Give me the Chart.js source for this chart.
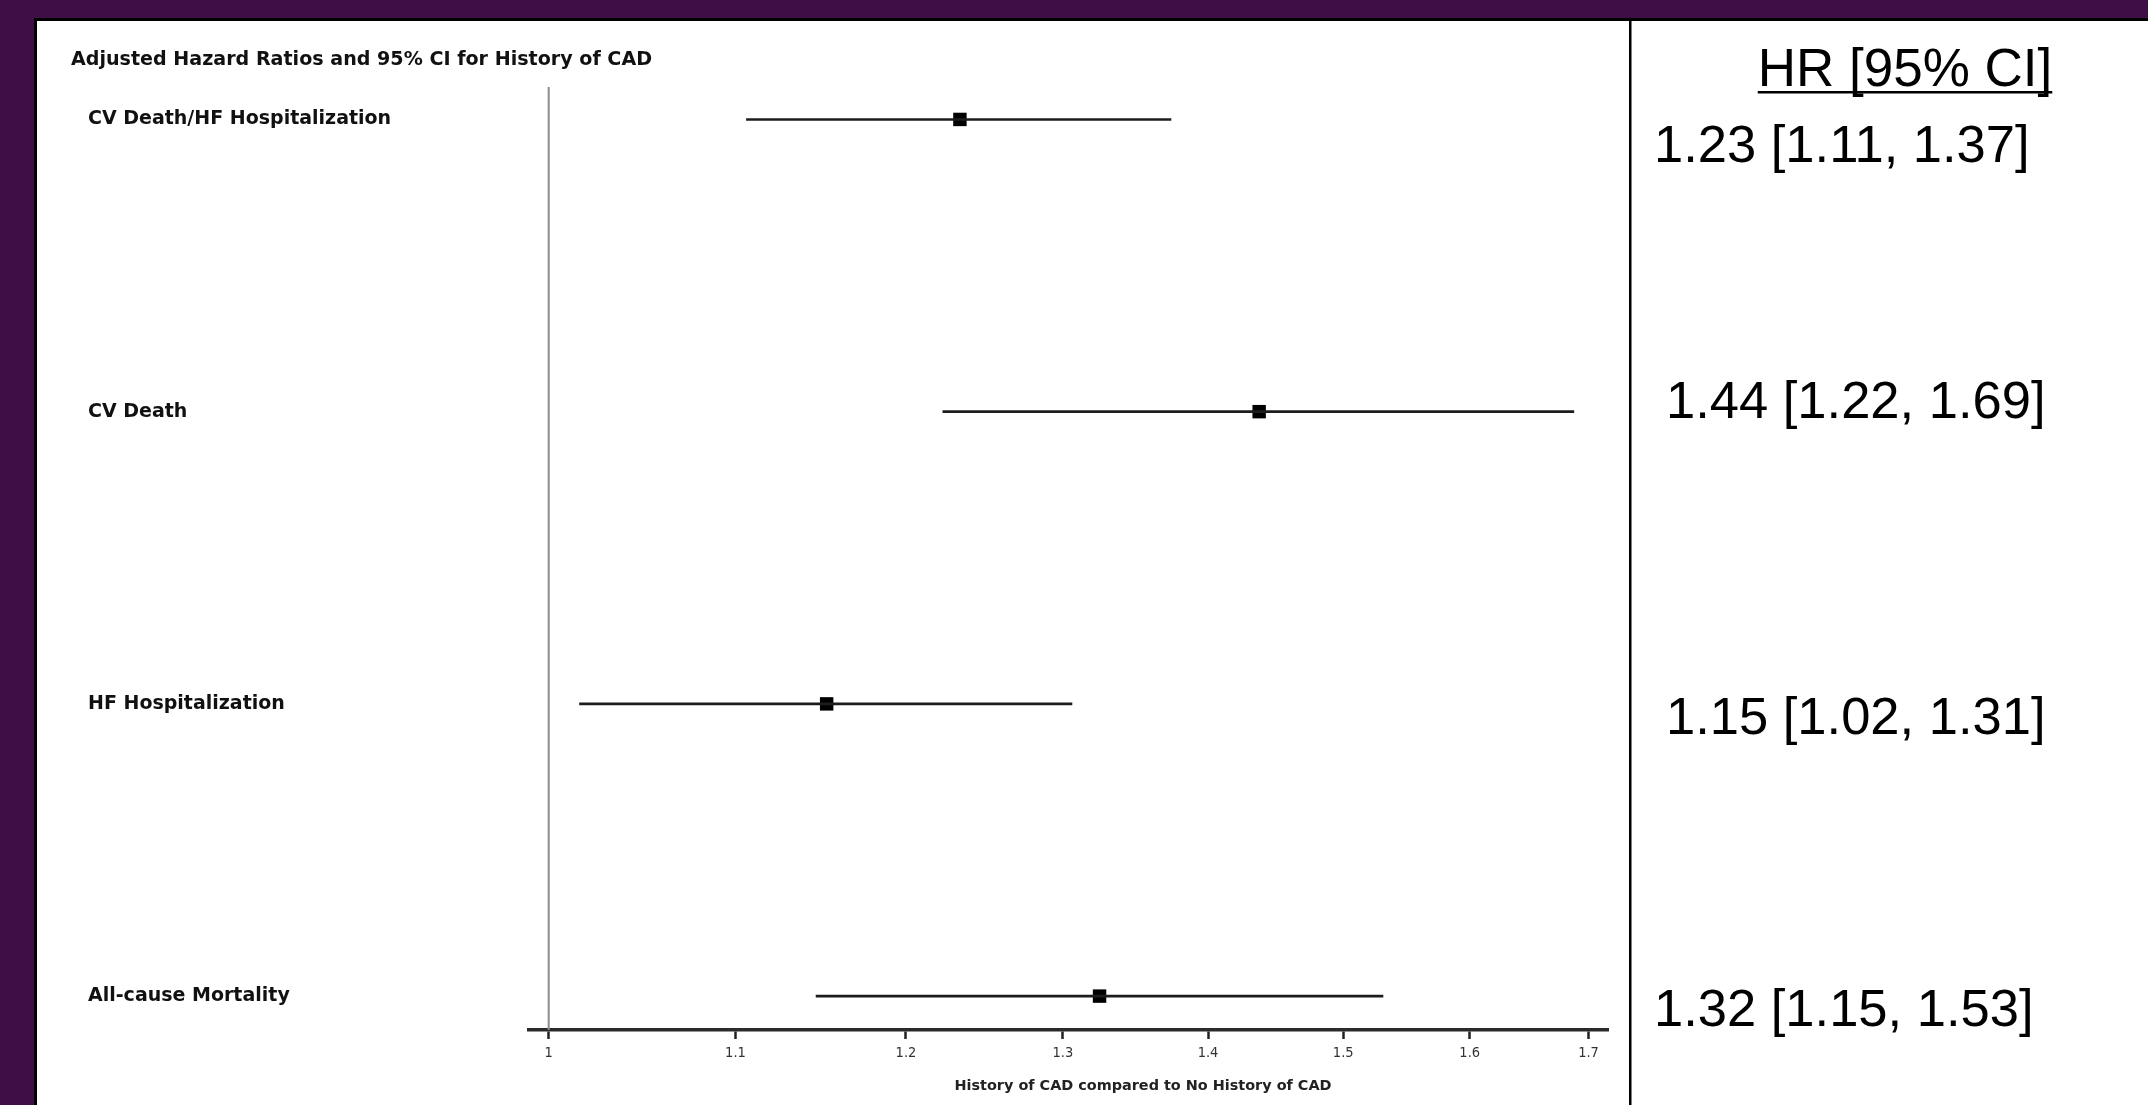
<!DOCTYPE html>
<html>
<head>
<meta charset="utf-8">
<title>Adjusted Hazard Ratios - History of CAD</title>
<script src="https://cdn.jsdelivr.net/npm/chart.js@4.4.1/dist/chart.umd.min.js"></script>
<style>
  html, body { margin: 0; padding: 0; background: #400e47; overflow: hidden; }
  canvas { display: block; }
</style>
</head>
<body>
<canvas id="forest" width="2148" height="1105"></canvas>
<script>
// outcomes, top to bottom
const outcomes = ['CV Death/HF Hospitalization', 'CV Death', 'HF Hospitalization', 'All-cause Mortality'];
// (they round to the printed HR [95% CI])
const hazardRatio = [1.2335, 1.437, 1.1524, 1.3246];
const ciLower = [1.106, 1.2226, 1.0157, 1.146];
const ciUpper = [1.374, 1.6876, 1.3063, 1.531];
const xTicks = [1, 1.1, 1.2, 1.3, 1.4, 1.5, 1.6, 1.7];
const xTickLabels = ['1', '1.1', '1.2', '1.3', '1.4', '1.5', '1.6', '1.7'];

const plotTitle = 'Adjusted Hazard Ratios and 95% CI for History of CAD';
const axisTitle = 'History of CAD compared to No History of CAD';
const columnTitle = 'HR [95% CI]';

// layout for the right hand column text (start x and middle y per row)
const hrTextX = [1654, 1666, 1666, 1654];
const hrTextY = [148, 404, 720, 1012];

const Y_MIN = -0.111, Y_MAX = 3.116;

function drawFit(ctx, text, x, y, font, width, align) {
    ctx.font = font;
    const w = ctx.measureText(text).width;
    const sx = width ? width / w : 1;
    ctx.save();
    ctx.translate(x, y);
    ctx.scale(sx, 1);
    ctx.textAlign = align || 'left';
    ctx.fillText(text, 0, 0);
    ctx.restore();
}

const decor = {
    id: 'decor',
    beforeDraw(chart) {
        const ctx = chart.ctx;
        ctx.save();
        ctx.fillStyle = '#400e47';
        ctx.fillRect(0, 0, chart.width, chart.height);
        // white panel with black edge
        ctx.fillStyle = '#000';
        ctx.fillRect(34, 18, chart.width - 34, chart.height - 18);
        ctx.fillStyle = '#fff';
        ctx.fillRect(37, 21, chart.width - 37, chart.height - 21);
        // divider between plot and HR column
        ctx.fillStyle = '#000';
        ctx.fillRect(1629, 21, 2.5, chart.height - 21);
        ctx.restore();
    },
    afterDraw(chart) {
        const ctx = chart.ctx;
        ctx.save();
        ctx.fillStyle = '#111';
        ctx.textBaseline = 'middle';
        drawFit(ctx, plotTitle, 71, 60, 'bold 19px "DejaVu Sans"', 581, 'left');

        ctx.fillStyle = '#222';
        drawFit(ctx, axisTitle, 1143, 1086, 'bold 14px "DejaVu Sans Condensed", "DejaVu Sans"', 377, 'center');

        // HR column
        ctx.fillStyle = '#000';
        ctx.textBaseline = 'alphabetic';
        ctx.font = '53px "Liberation Sans", Arial, sans-serif';
        ctx.textAlign = 'center';
        const hx = 1905, hy = 86;
        ctx.fillText(columnTitle, hx, hy);
        const hw = ctx.measureText(columnTitle).width;
        ctx.fillRect(hx - hw / 2, hy + 5, hw, 2.5);

        ctx.font = '52.5px "Liberation Sans", Arial, sans-serif';
        ctx.textAlign = 'left';
        ctx.textBaseline = 'middle';
        outcomes.forEach((name, i) => {
            const txt = hazardRatio[i].toFixed(2) + ' [' + ciLower[i].toFixed(2) + ', ' + ciUpper[i].toFixed(2) + ']';
            ctx.fillText(txt, hrTextX[i], hrTextY[i]);
        });
        ctx.restore();
    }
};

const datasets = [];

// reference line at HR = 1
datasets.push({
    type: 'line',
    data: [{ x: 1, y: Y_MIN }, { x: 1, y: Y_MAX }],
    borderColor: '#8c8c8c',
    borderWidth: 2,
    pointRadius: 0,
    clip: false
});

// confidence intervals
outcomes.forEach((name, i) => {
    datasets.push({
        type: 'line',
        label: name,
        data: [{ x: ciLower[i], y: i }, { x: ciUpper[i], y: i }],
        borderColor: '#1c1c1c',
        borderWidth: 2.6,
        pointRadius: 0
    });
});

// point estimates
datasets.push({
    type: 'scatter',
    label: 'HR',
    data: hazardRatio.map((v, i) => ({ x: v, y: i })),
    pointStyle: 'rect',
    pointRadius: 9.5,
    pointHoverRadius: 9.5,
    backgroundColor: '#000',
    borderColor: '#000',
    borderWidth: 0
});

new Chart(document.getElementById('forest'), {
    type: 'scatter',
    data: { datasets },
    options: {
        responsive: false,
        devicePixelRatio: 1,
        animation: false,
        events: [],
        layout: { padding: { left: 88, right: 540, top: 87, bottom: 0 } },
        plugins: { legend: { display: false }, tooltip: { enabled: false } },
        scales: {
            x: {
                type: 'logarithmic',
                position: 'bottom',
                min: 0.9905,
                max: 1.717,
                afterBuildTicks: (scale) => { scale.ticks = xTicks.map(v => ({ value: v })); },
                afterFit: (scale) => { scale.height = 75; },
                grid: {
                    display: true,
                    drawOnChartArea: false,
                    drawTicks: true,
                    tickLength: 9,
                    tickWidth: 2.5,
                    tickColor: '#222'
                },
                border: { display: true, color: '#2b2b2b', width: 3.5 },
                ticks: {
                    autoSkip: false,
                    maxRotation: 0,
                    padding: 6,
                    color: '#333',
                    font: { family: '"DejaVu Sans Condensed", "DejaVu Sans"', size: 14.5 },
                    callback: (value, index) => xTickLabels[index]
                }
            },
            y: {
                type: 'linear',
                reverse: true,
                min: Y_MIN,
                max: Y_MAX,
                afterBuildTicks: (scale) => { scale.ticks = outcomes.map((n, i) => ({ value: i })); },
                afterFit: (scale) => { scale.width = 529 - 88; },
                grid: { display: false },
                border: { display: false },
                ticks: {
                    crossAlign: 'far',
                    padding: 0,
                    color: '#111',
                    font: { family: '"DejaVu Sans"', size: 19, weight: 'bold' },
                    callback: (value, index) => outcomes[index]
                }
            }
        }
    },
    plugins: [decor]
});
</script>
</body>
</html>
